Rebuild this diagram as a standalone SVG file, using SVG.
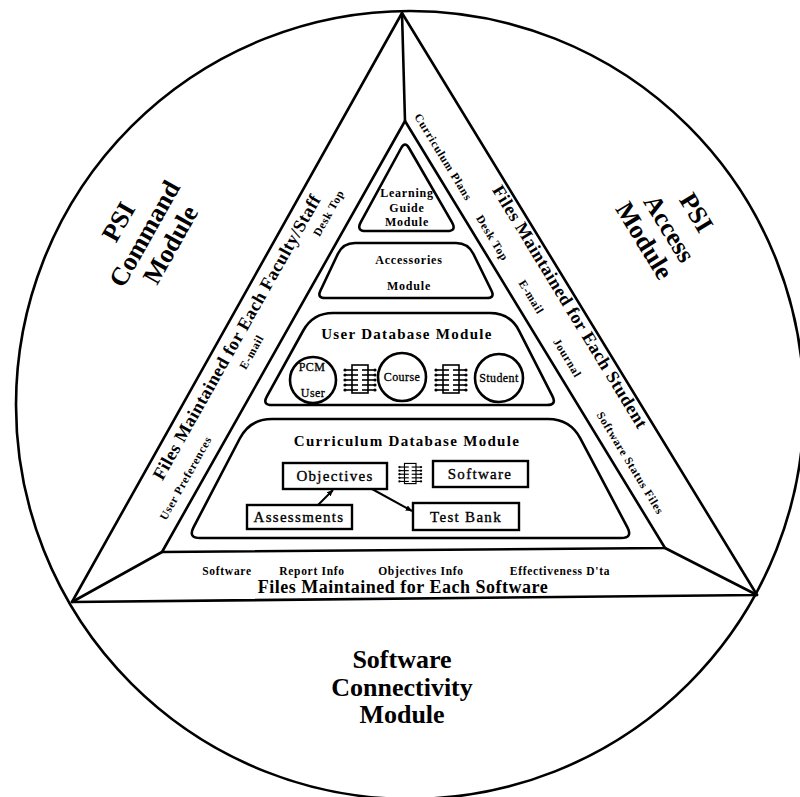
<svg xmlns="http://www.w3.org/2000/svg" width="800" height="797" viewBox="0 0 800 797">
<style>
.ln{fill:none;stroke:#000;stroke-width:2.6;stroke-linejoin:round;stroke-linecap:round}
.bx{fill:#fff;stroke:#000;stroke-width:2.4}
.big{font-family:"Liberation Serif",serif;font-weight:bold;font-size:26px;text-anchor:middle}
.side{font-family:"Liberation Serif",serif;font-weight:bold;font-size:18px;letter-spacing:0.5px;text-anchor:middle}
.sm{font-family:"Liberation Serif",serif;font-weight:bold;font-size:11.5px;letter-spacing:0.7px;text-anchor:middle}
.mt{font-family:"Liberation Serif",serif;font-weight:bold;font-size:15px;letter-spacing:1.3px;text-anchor:middle}
.mt2{font-family:"Liberation Serif",serif;font-weight:bold;font-size:12px;letter-spacing:0.8px;text-anchor:middle}
.bl{font-family:"Liberation Serif",serif;font-size:15px;letter-spacing:1.3px;text-anchor:middle;stroke:#000;stroke-width:0.35}
.cl{font-family:"Liberation Serif",serif;font-size:12px;letter-spacing:0.4px;text-anchor:middle;stroke:#000;stroke-width:0.3}
</style>
<defs>
<marker id="ah" viewBox="0 0 10 8" refX="9" refY="4" markerWidth="7" markerHeight="6" orient="auto" markerUnits="userSpaceOnUse">
<path d="M0,0 L10,4 L0,8 Z" fill="#000"/>
</marker>
<g id="bus">
<rect x="9" y="2" width="16" height="28" fill="none" stroke="#000" stroke-width="1.6"/>
<g stroke="#000" stroke-width="1.6">
<line x1="2" y1="7" x2="15" y2="7"/><line x1="2" y1="12" x2="15" y2="12"/><line x1="2" y1="17" x2="15" y2="17"/><line x1="2" y1="22" x2="15" y2="22"/><line x1="2" y1="27" x2="15" y2="27"/>
<line x1="19" y1="7" x2="32" y2="7"/><line x1="19" y1="12" x2="32" y2="12"/><line x1="19" y1="17" x2="32" y2="17"/><line x1="19" y1="22" x2="32" y2="22"/><line x1="19" y1="27" x2="32" y2="27"/>
</g>
<g fill="#000">
<circle cx="2" cy="7" r="1.6"/><circle cx="2" cy="12" r="1.6"/><circle cx="2" cy="17" r="1.6"/><circle cx="2" cy="22" r="1.6"/><circle cx="2" cy="27" r="1.6"/>
<circle cx="32" cy="7" r="1.6"/><circle cx="32" cy="12" r="1.6"/><circle cx="32" cy="17" r="1.6"/><circle cx="32" cy="22" r="1.6"/><circle cx="32" cy="27" r="1.6"/>
</g>
</g>
</defs>
<rect width="800" height="797" fill="#fff"/>

<g id="frame">
<circle class="ln" cx="410" cy="405" r="394"/>
<polygon class="ln" points="402,13 757,595 72,602"/>
<polygon class="ln" points="405,121 665,548 162,552"/>
<line class="ln" x1="402" y1="13" x2="405" y2="121"/>
<line class="ln" x1="162" y1="552" x2="72" y2="602"/>
<line class="ln" x1="665" y1="548" x2="757" y2="595"/>
</g>

<g id="psi-command">
<text class="big" transform="translate(126,226) rotate(-60.6)">PSI</text>
<text class="big" transform="translate(152,238) rotate(-60.6)">Command</text>
<text class="big" transform="translate(178,249) rotate(-60.6)">Module</text>
</g>

<g id="psi-access">
<text class="big" transform="translate(689,217) rotate(58.6)">PSI</text>
<text class="big" transform="translate(662,233) rotate(58.6)">Access</text>
<text class="big" transform="translate(637,245) rotate(58.6)">Module</text>
</g>

<g id="software-connectivity">
<text class="big" x="402" y="668">Software</text>
<text class="big" x="402" y="696">Connectivity</text>
<text class="big" x="402" y="723">Module</text>
</g>

<g id="faculty-files">
<text class="side" transform="translate(242,340) rotate(-60.6)">Files Maintained for Each Faculty/Staff</text>
<text class="sm" transform="translate(332,215) rotate(-60.6)">Desk Top</text>
<text class="sm" transform="translate(255,354) rotate(-60.6)">E-mail</text>
<text class="sm" transform="translate(189,480) rotate(-60.6)">User Preferences</text>
</g>

<g id="student-files">
<text class="side" transform="translate(565,310) rotate(58.6)">Files Maintained for Each Student</text>
<text class="sm" transform="translate(440,159) rotate(58.6)">Curriculum Plans</text>
<text class="sm" transform="translate(489,240) rotate(58.6)">Desk Top</text>
<text class="sm" transform="translate(528,299) rotate(58.6)">E-mail</text>
<text class="sm" transform="translate(564,360) rotate(58.6)">Journal</text>
<text class="sm" transform="translate(627,465) rotate(58.6)">Software Status Files</text>
</g>

<g id="software-files">
<text class="sm" x="227" y="575">Software</text>
<text class="sm" x="312" y="575">Report Info</text>
<text class="sm" x="421" y="575">Objectives Info</text>
<text class="sm" x="560" y="575">Effectiveness D'ta</text>
<text class="side" x="403" y="593">Files Maintained for Each Software</text>
</g>

<g id="learning-guide">
<path class="ln" d="M401.2,148 Q405,141 409,148 L452,222.3 Q457,231 447,231 L366,231 Q356,231 360.8,222.2 Z"/>
<text class="mt2" x="407" y="197">Learning</text>
<text class="mt2" x="407" y="212">Guide</text>
<text class="mt2" x="407" y="226">Module</text>
</g>

<g id="accessories">
<path class="ln" d="M355,243 L456,243 Q468,243 473.3,253.8 L491.5,290.8 Q495,298 487,298 L325,298 Q317,298 320.4,290.8 L337.9,253.8 Q343,243 355,243 Z"/>
<text class="mt2" x="409" y="264">Accessories</text>
<text class="mt2" x="409" y="290">Module</text>
</g>

<g id="user-database">
<path class="ln" d="M333,313 L490,313 Q510,313 519.1,330.8 L552.4,396.1 Q557,405 547,405 L272,405 Q262,405 266.9,396.3 L303.3,330.5 Q313,313 333,313 Z"/>
<text class="mt" x="407" y="339">User Database Module</text>
</g>

<g id="pcm-user">
<circle class="ln" cx="313" cy="380" r="23"/>
<text class="cl" x="312" y="371">PCM</text>
<text class="cl" x="313" y="397">User</text>
</g>
<g id="course">
<circle class="ln" cx="402" cy="377" r="24"/>
<text class="cl" x="402" y="381">Course</text>
</g>
<g id="student">
<circle class="ln" cx="499" cy="378" r="24"/>
<text class="cl" x="499" y="382">Student</text>
</g>

<g id="curriculum-database">
<path class="ln" d="M272,419 L548,419 Q570,419 580.3,438.4 L627.4,527.4 Q633,538 621,538 L200,538 Q188,538 193.5,527.4 L239.8,438.5 Q250,419 272,419 Z"/>
<text class="mt" x="407" y="446">Curriculum Database Module</text>
</g>

<g id="objectives">
<rect class="bx" x="283" y="463" width="104" height="26"/>
<text class="bl" x="335" y="481">Objectives</text>
</g>
<g id="software">
<rect class="bx" x="433" y="461" width="95" height="26"/>
<text class="bl" x="480" y="479">Software</text>
</g>
<g id="assessments">
<rect class="bx" x="247" y="505" width="105" height="24"/>
<text class="bl" x="299" y="522">Assessments</text>
</g>
<g id="test-bank">
<rect class="bx" x="413" y="503" width="106" height="27"/>
<text class="bl" x="466" y="522">Test Bank</text>
</g>

<g id="connectors">
<use href="#bus" x="343" y="363"/>
<use href="#bus" x="434" y="363"/>
<use href="#bus" transform="translate(398,462) scale(0.72)"/>
<line x1="318" y1="505" x2="333" y2="490" stroke="#000" stroke-width="2" marker-end="url(#ah)"/>
<line x1="372" y1="489" x2="412" y2="511" stroke="#000" stroke-width="2" marker-end="url(#ah)"/>
</g>
</svg>
